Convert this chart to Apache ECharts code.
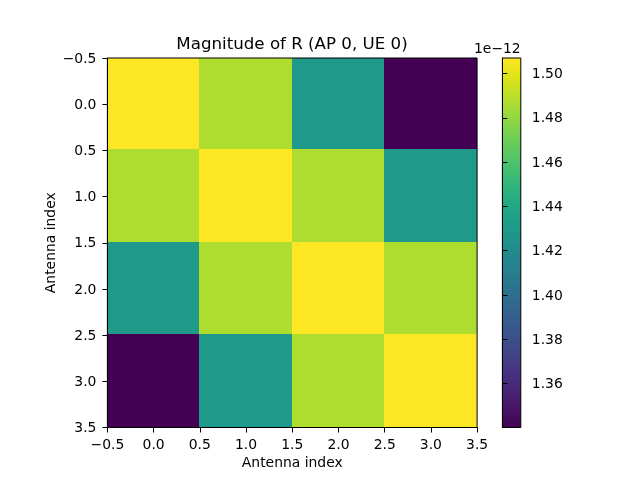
<!DOCTYPE html>
<html>
<head>
<meta charset="utf-8">
<style>html,body{margin:0;padding:0;background:#fff}#c{width:640px;height:480px}</style>
<script src="https://cdn.jsdelivr.net/npm/echarts@6/dist/echarts.min.js"></script>
</head>
<body>
<div id="c"></div>
<script>
const antennaIndex = [0, 1, 2, 3];
const row0 = [1.507, 1.487, 1.430, 1.3402];
const row1 = [1.487, 1.507, 1.487, 1.430];
const row2 = [1.430, 1.487, 1.507, 1.487];
const row3 = [1.3402, 1.430, 1.487, 1.507];
const rows = [row0, row1, row2, row3];
const colorbarTicks = [1.36, 1.38, 1.40, 1.42, 1.44, 1.46, 1.48, 1.50];
const colorMin = 1.3402, colorMax = 1.507;
const viridis = ['#440154','#471365','#482475','#463480','#414487','#3b528b','#355f8d','#2f6c8e','#2a788e','#25848e','#21918c','#1e9c89','#22a884','#2fb47c','#44bf70','#5ec962','#7ad151','#9bd93c','#bddf26','#dfe318','#fde725'];

const FONT = 'DejaVu Sans';
const cells = [];
rows.forEach((r, y) => r.forEach((v, x) => cells.push([antennaIndex[x], antennaIndex[y], v])));

const fmt = v => v.toFixed(1).replace('-', '\u2212');
const richLabel = { a: { color: '#000', fontFamily: FONT, fontSize: 13.9, padding: [2, 0, 0, 0] } };
const posAxis = (extra) => Object.assign({
  type: 'value', min: -0.5, max: 3.5, interval: 0.5,
  splitLine: { show: false },
  axisLine: { show: true, onZero: false, lineStyle: { color: '#000', width: 1 } },
  axisTick: { show: true, inside: false, length: 5, lineStyle: { color: '#000', width: 1 } },
  axisLabel: { color: '#000', fontFamily: FONT, fontSize: 13.9, margin: 11, formatter: fmt, showMinLabel: true, showMaxLabel: true, hideOverlap: false },
  nameLocation: 'middle',
  nameMoveOverlap: false,
  nameTextStyle: { color: '#000', fontFamily: FONT, fontSize: 13.9 }
}, extra);

const chart = echarts.init(document.getElementById('c'), null, { renderer: 'canvas' });
chart.setOption({
  animation: false,
  backgroundColor: '#fff',
  title: {
    text: 'Magnitude of R (AP 0, UE 0)', left: 287, top: 31, textAlign: 'center',
    textStyle: { color: '#000', fontFamily: FONT, fontSize: 16.67, fontWeight: 'normal' }
  },
  grid: [
    { left: 107.4, top: 58, width: 369.7, height: 369.5, show: true, borderColor: '#000', borderWidth: 1, backgroundColor: 'transparent' },
    { left: 502.4, top: 58, width: 18.4, height: 369.5, show: true, borderColor: '#000', borderWidth: 1, backgroundColor: 'transparent' }
  ],
  xAxis: [
    posAxis({ gridIndex: 0, name: 'Antenna index', nameGap: 29 }),
    { type: 'value', gridIndex: 1, min: 0, max: 1, show: false }
  ],
  yAxis: [
    posAxis({ gridIndex: 0, inverse: true, name: 'Antenna index', nameGap: 49,
      axisLabel: { color: '#000', fontFamily: FONT, fontSize: 13.9, margin: 11, showMinLabel: true, showMaxLabel: true, hideOverlap: false,
        formatter: v => '{a|' + fmt(v) + '}', rich: richLabel } }),
    {
      type: 'value', gridIndex: 1, min: colorMin, max: colorMax, position: 'right',
      splitLine: { show: false },
      axisLine: { show: true, lineStyle: { color: '#000', width: 1 } },
      axisTick: { show: true, length: 5, lineStyle: { color: '#000', width: 1 }, customValues: colorbarTicks },
      axisLabel: { color: '#000', fontFamily: FONT, fontSize: 13.9, margin: 11, customValues: colorbarTicks,
        formatter: v => '{a|' + v.toFixed(2) + '}', rich: richLabel }
    }
  ],
  visualMap: {
    show: false, seriesIndex: 0, dimension: 2, min: colorMin, max: colorMax,
    inRange: { color: viridis }
  },
  series: [
    {
      type: 'custom', xAxisIndex: 0, yAxisIndex: 0, clip: true,
      data: cells,
      encode: { x: 0, y: 1 },
      renderItem(params, api) {
        const x = api.value(0), y = api.value(1);
        const a = api.coord([x - 0.5, y - 0.5]);
        const b = api.coord([x + 0.5, y + 0.5]);
        const x0 = Math.floor(a[0]), x1 = Math.floor(b[0]);
        const y0 = Math.floor(a[1] - 0.5), y1 = Math.floor(b[1] - 0.5);
        return { type: 'rect', shape: { x: x0, y: y0, width: x1 - x0, height: y1 - y0 },
                 style: { fill: api.visual('color') } };
      },
      z: -5
    },
    {
      type: 'custom', xAxisIndex: 1, yAxisIndex: 1, clip: false,
      data: [[0, colorMin, 1, colorMax]],
      encode: { x: [0, 2], y: [1, 3] },
      renderItem(params, api) {
        const a = api.coord([api.value(0), api.value(3)]);
        const b = api.coord([api.value(2), api.value(1)]);
        const n = viridis.length - 1;
        return { type: 'rect', shape: { x: a[0], y: a[1], width: b[0] - a[0], height: b[1] - a[1] },
                 style: { fill: new echarts.graphic.LinearGradient(0, 1, 0, 0,
                   viridis.map((c, i) => ({ offset: i / n, color: c }))) } };
      },
      z: -5
    }
  ],
  graphic: [{
    type: 'text', left: 474, top: 42, z: 10,
    style: { text: '1e\u221212', fill: '#000', font: '13.9px "DejaVu Sans"' }
  }]
});
</script>
</body>
</html>
